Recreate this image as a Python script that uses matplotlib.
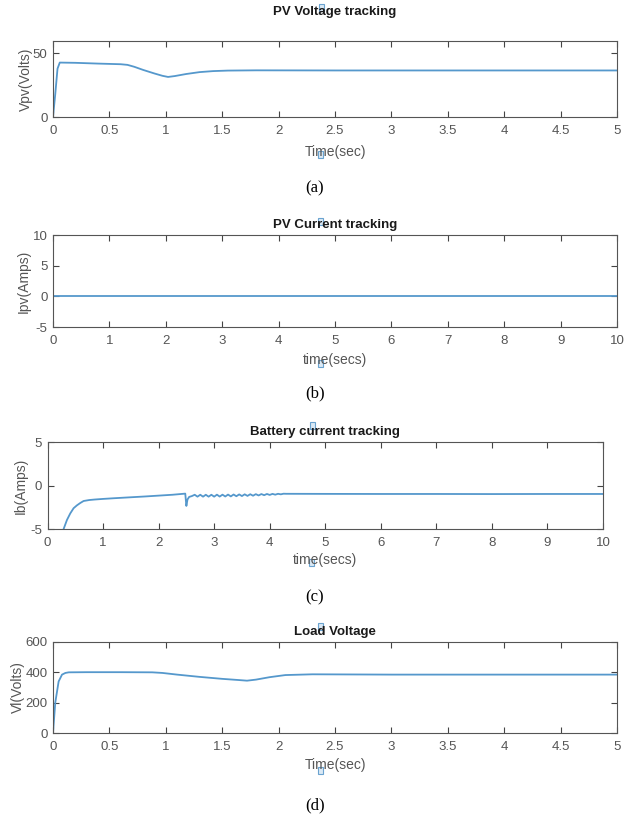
import matplotlib
matplotlib.use("Agg")
import matplotlib.pyplot as plt
from matplotlib.patches import Rectangle
from matplotlib.ticker import FormatStrFormatter

plt.rcParams['font.family'] = ['Liberation Sans', 'DejaVu Sans']

# ---------------- data ----------------
vpv_t = [0, 0.02, 0.04, 0.06, 0.2, 0.4, 0.6, 0.66, 0.72, 0.8, 0.9, 0.97, 1.02, 1.08, 1.18, 1.3, 1.42, 1.55, 1.8, 2.5, 3.5, 5.0]
vpv_v = [0, 18, 38, 42.8, 42.6, 42.0, 41.5, 41.0, 39.5, 37.0, 34.2, 32.4, 31.5, 32.2, 33.8, 35.3, 36.1, 36.5, 36.7, 36.6, 36.6, 36.6]

ipv_t = [0, 2.5, 5.0, 7.5, 10.0]
ipv_v = [0.1, 0.1, 0.1, 0.1, 0.1]

ib_t = [0, 0.01, 0.29, 0.35, 0.41, 0.47, 0.53, 0.59, 0.65, 0.75, 0.85, 1.0, 1.2, 1.5, 1.75, 2.0, 2.25, 2.48,
        2.5, 2.52, 2.55, 2.6, 2.65, 2.7, 2.75, 2.8, 2.85, 2.9, 2.95, 3.0, 3.05, 3.1, 3.15, 3.2, 3.25,
        3.3, 3.35, 3.4, 3.45, 3.5, 3.55, 3.6, 3.65, 3.7, 3.75, 3.8, 3.85, 3.9, 3.95, 4.0, 4.05, 4.1,
        4.15, 4.2, 4.25, 4.3, 5.0, 6.0, 7.0, 8.0, 9.0, 10.0]
ib_v = [-0.3, -30, -5.0, -3.96, -3.2, -2.6, -2.27, -2.0, -1.77, -1.66, -1.6, -1.53, -1.45, -1.34, -1.25, -1.15, -1.05, -0.92,
        -2.34, -1.6, -1.3, -1.2, -1.05, -1.27, -1.05, -1.27, -1.05, -1.27, -1.05, -1.27, -1.04, -1.26, -1.04, -1.25, -1.03,
        -1.24, -1.02, -1.22, -1.01, -1.2, -1.0, -1.18, -0.99, -1.16, -0.98, -1.13, -0.97, -1.1, -0.96, -1.07, -0.95, -1.04,
        -0.94, -1.0, -0.93, -0.94, -0.95, -0.96, -0.96, -0.97, -0.96, -0.96]

vl_t = [0, 0.02, 0.05, 0.08, 0.11, 0.14, 0.3, 0.6, 0.88, 0.97, 1.1, 1.3, 1.5, 1.65, 1.72, 1.8, 1.92, 2.06, 2.3, 3.0, 4.0, 5.0]
vl_v = [0, 200, 340, 385, 396, 400, 401, 401, 400, 396, 385, 370, 357, 349, 345, 352, 368, 382, 387, 385, 385, 385]

titles = ["PV Voltage tracking", "PV Current tracking", "Battery current tracking", "Load Voltage"]
xlabels = ["Time(sec)", "time(secs)", "time(secs)", "Time(sec)"]
ylabels = ["Vpv(Volts)", "Ipv(Amps)", "Ib(Amps)", "Vl(Volts)"]
captions = ["(a)", "(b)", "(c)", "(d)"]

xticks_a = [0, 0.5, 1, 1.5, 2, 2.5, 3, 3.5, 4, 4.5, 5]
xticks_b = [0, 1, 2, 3, 4, 5, 6, 7, 8, 9, 10]
yticks = [[0, 50], [-5, 0, 5, 10], [-5, 0, 5], [0, 200, 400, 600]]
ylims = [(0, 60), (-5, 10), (-5, 5), (0, 600)]
xlims = [(0, 5), (0, 10), (0, 10), (0, 5)]

# ---------------- layout (pixels) ----------------
W, H = 632, 816
fig = plt.figure(figsize=(W / 100, H / 100), dpi=100)

boxes = [  # left, top, right, bottom in px
    (53, 40.7, 617, 117.0),
    (53, 235, 617, 327),
    (47.5, 442.3, 603, 529),
    (53, 642, 617, 733),
]
title_y = [11.7, 225, 432, 632]
xlabel_y = [152, 360, 560, 765]
ylabel_x = [26, 24, 21, 18]
caption_y = [188, 393, 597, 805]

series = [(vpv_t, vpv_v), (ipv_t, ipv_v), (ib_t, ib_v), (vl_t, vl_v)]
xt = [xticks_a, xticks_b, xticks_b, xticks_a]

line_color = '#5598cc'
grey = '#555555'

for i in range(4):
    l, t, r, b = boxes[i]
    ax = fig.add_axes([l / W, 1 - b / H, (r - l) / W, (b - t) / H])
    x, y = series[i]
    ax.plot(x, y, color=line_color, lw=1.3)
    ax.set_xlim(*xlims[i])
    ax.set_ylim(*ylims[i])
    ax.set_xticks(xt[i])
    ax.set_yticks(yticks[i])
    ax.xaxis.set_major_formatter(FormatStrFormatter('%g'))
    ax.yaxis.set_major_formatter(FormatStrFormatter('%g'))
    ax.tick_params(direction='in', top=True, right=True, length=4, width=0.8,
                   colors='#444444', labelcolor=grey, labelsize=9.5, pad=4)
    ax.tick_params(axis='x', pad=6)
    for s in ax.spines.values():
        s.set_color('#555555')
        s.set_linewidth(0.8)
    cx = (l + r) / 2
    fig.text(cx / W, 1 - title_y[i] / H, titles[i], ha='center', va='center',
             fontsize=9.5, fontweight='bold', color='#1a1a1a')
    fig.text(cx / W, 1 - xlabel_y[i] / H, xlabels[i], ha='center', va='center',
             fontsize=10, color=grey)
    fig.text(ylabel_x[i] / W, 1 - ((t + b) / 2) / H, ylabels[i], ha='center', va='center',
             rotation=90, fontsize=10, color=grey)
    fig.text(315 / W, 1 - caption_y[i] / H, captions[i], ha='center', va='center',
             fontsize=12, family=['Liberation Serif', 'DejaVu Serif'], color='black')

# small selection-handle squares seen in the reference
handles_px = [(321, 7), (320, 154), (320, 221), (320, 363), (312.5, 425), (311, 562), (320, 626), (320, 770)]
for hx, hy in handles_px:
    fig.patches.append(Rectangle(((hx - 2.5) / W, 1 - (hy + 3.5) / H), 5 / W, 7 / H,
                                 transform=fig.transFigure, fill=True, facecolor='#dbe9f5',
                                 edgecolor='#6aa3d0', lw=0.8))

fig.savefig('out.png', dpi=100)
